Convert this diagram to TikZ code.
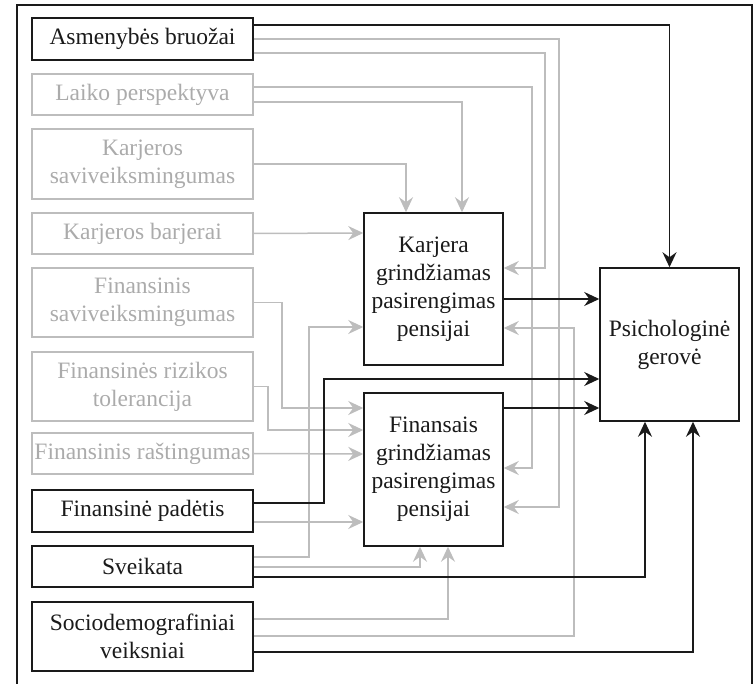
\documentclass[tikz,border=0pt]{standalone}
\usepackage{fontspec}
\setmainfont{Liberation Serif}
\usepackage{xcolor}
\usetikzlibrary{positioning,calc,arrows.meta}
\definecolor{lightgr}{HTML}{BDBDBD}
\definecolor{textgr}{HTML}{ABABAB}
\definecolor{darkln}{HTML}{1A1A1A}

\begin{document}
\begin{tikzpicture}[x=1pt, y=-1pt,
    box/.style={draw=darkln, line width=1.5pt, inner sep=0pt, align=center,
      font=\fontsize{23.5}{28}\selectfont, text=darkln},
    greybox/.style={box, draw=lightgr, text=textgr},
    leftbox/.style={minimum width=221pt},
    midbox/.style={minimum width=139pt},
    blk/.style={draw=darkln, line width=1.7pt, -{Stealth[length=15pt,width=14pt,inset=5pt]}},
    gry/.style={draw=lightgr, line width=1.5pt, -{Stealth[length=15pt,width=14pt,inset=5pt]}}]
    \useasboundingbox (0,0) rectangle (756,684);
    \draw [darkln, line width=1.5pt] (17,690) |- (752,5) -- (752,690);

    % left column
    \node [box, leftbox, minimum height=42pt] (asm) at (142.5,39) {Asmenybės bruožai};
    \node [greybox, leftbox, minimum height=41pt] (laiko) at (142.5,94.5) {Laiko perspektyva};
    \node [greybox, leftbox, minimum height=70pt] (ksav) at (142.5,164) {Karjeros\\saviveiksmingumas};
    \node [greybox, leftbox, minimum height=41pt] (kbar) at (142.5,233.5) {Karjeros barjerai};
    \node [greybox, leftbox, minimum height=69pt] (fsav) at (142.5,302.5) {Finansinis\\saviveiksmingumas};
    \node [greybox, leftbox, minimum height=69pt] (friz) at (142.5,386.5) {Finansinės rizikos\\tolerancija};
    \node [greybox, leftbox, minimum height=41pt] (fras) at (142.5,453.5) {Finansinis raštingumas};
    \node [box, leftbox, minimum height=42pt] (fpad) at (142.5,511) {Finansinė padėtis};
    \node [box, leftbox, minimum height=41pt] (sveik) at (142.5,566.5) {Sveikata};
    \node [box, leftbox, minimum height=69pt] (socio) at (142.5,636.5) {Sociodemografiniai\\veiksniai};

    % middle and right
    \node [box, midbox, minimum height=152pt] (karj) at (433.5,289) {Karjera\\grindžiamas\\pasirengimas\\pensijai};
    \node [box, midbox, minimum height=153pt] (fin) at (433.5,469.5) {Finansais\\grindžiamas\\pasirengimas\\pensijai};
    \node [box, midbox, minimum height=153pt] (psy) at (669.5,344.5) {Psichologinė\\gerovė};

    % grey links
    \draw [gry] (asm.east) -- ++(305,0) |- ([yshift=-37.5pt]fin.east);
    \draw [gry] ([yshift=-14pt]asm.east) -- ++(291,0) |- ([yshift=21pt]karj.east);
    \draw [gry] ([yshift=7.5pt]laiko.east) -- ++(278,0) |- ([yshift=1.5pt]fin.east);
    \draw [gry] ([yshift=-7.5pt]laiko.east) -| ([xshift=28.5pt]karj.north);
    \draw [gry] (ksav.east) -| ([xshift=-27.5pt]karj.north);
    \draw [gry] (kbar.east) -- ([yshift=56pt]karj.west);
    \draw [gry] (fsav.east) -- ++(28,0) |- ([yshift=61.5pt]fin.west);
    \draw [gry] (friz.east) -- ++(14,0) |- ([yshift=39.5pt]fin.west);
    \draw [gry] (fras.east) -- ([yshift=15.5pt]fin.west);
    \draw [gry] ([yshift=-11pt]fpad.east) -- ([yshift=-52.5pt]fin.west);
    \draw [gry] ([yshift=9.5pt]sveik.east) -- ++(55,0) |- ([yshift=-38pt]karj.west);
    \draw [gry] ([yshift=-0.5pt]sveik.east) -| ([xshift=-13.5pt]fin.south);
    \draw [gry] ([yshift=17.5pt]socio.east) -| ([xshift=14.5pt]fin.south);
    \draw [gry] ([yshift=0.5pt]socio.east) -- ++(320,0) |- ([yshift=-39pt]karj.east);

    % black links
    \draw [blk] ([yshift=14pt]asm.east) -| (psy.north);
    \draw [blk] ([yshift=-10pt]karj.east) -- ([yshift=45.5pt]psy.west);
    \draw [blk] ([yshift=8pt]fpad.east) -- ++(70,0) |- ([yshift=-34.5pt]psy.west);
    \draw [blk] ([yshift=61.5pt]fin.east) -- ([yshift=-63.5pt]psy.west);
    \draw [blk] ([yshift=-10.5pt]sveik.east) -| ([xshift=-24.5pt]psy.south);
    \draw [blk] ([yshift=-15.5pt]socio.east) -| ([xshift=23.5pt]psy.south);
\end{tikzpicture}
\end{document}
